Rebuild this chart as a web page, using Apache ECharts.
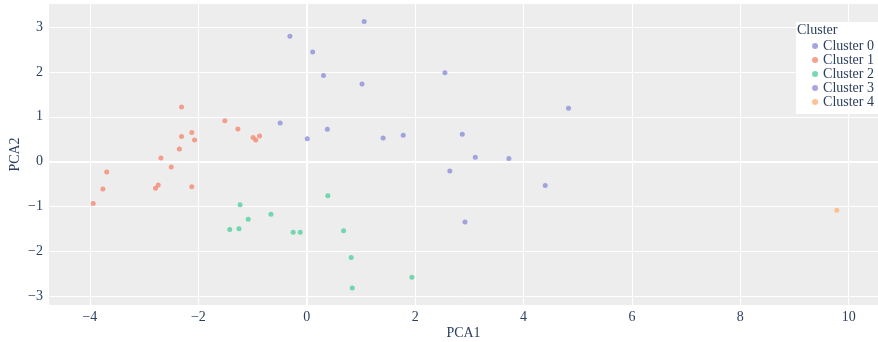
<!DOCTYPE html>
<html>
<head>
<meta charset="utf-8">
<script src="https://cdn.jsdelivr.net/npm/echarts@6/dist/echarts.min.js"></script>
<style>
  html, body { margin: 0; padding: 0; background: #fff; }
  #chart { width: 878px; height: 342px; }
</style>
</head>
<body>
<div id="chart"></div>
<script>
// PCA scatter, values
var xTicks = [-4, -2, 0, 2, 4, 6, 8, 10];
var yTicks = [-3, -2, -1, 0, 1, 2, 3];
var clusterNames = ['Cluster 0', 'Cluster 1', 'Cluster 2', 'Cluster 3', 'Cluster 4'];
var clusterColors = ['#8f90da', '#f28a70', '#52cf9f', '#978fd8', '#ffb27c'];

var cluster0 = [
    [-0.31, 2.79], [1.06, 3.12], [0.11, 2.44], [0.31, 1.92], [1.02, 1.73],
    [2.55, 1.98], [4.83, 1.19], [-0.49, 0.86], [0.01, 0.51], [0.38, 0.72],
    [1.41, 0.53], [1.78, 0.59], [2.87, 0.61], [3.11, 0.10], [3.73, 0.07],
    [2.64, -0.21], [4.40, -0.53], [2.92, -1.34]
];
var cluster1 = [
    [-2.31, 1.22], [-1.51, 0.91], [-1.27, 0.73], [-0.99, 0.54], [-0.94, 0.48],
    [-0.87, 0.57], [-2.12, 0.65], [-2.31, 0.56], [-2.07, 0.48], [-2.35, 0.28],
    [-2.69, 0.08], [-2.50, -0.12], [-3.69, -0.23], [-3.76, -0.61], [-3.94, -0.93],
    [-2.74, -0.52], [-2.79, -0.59], [-2.12, -0.56]
];
var cluster2 = [
    [-1.23, -0.96], [-1.08, -1.28], [-0.66, -1.17], [-1.42, -1.51], [-1.25, -1.49],
    [-0.25, -1.57], [-0.12, -1.57], [0.39, -0.76], [0.68, -1.54], [0.82, -2.13],
    [0.84, -2.81], [1.94, -2.57]
];
var cluster3 = [];
var cluster4 = [[9.78, -1.08]];

var clusterData = [cluster0, cluster1, cluster2, cluster3, cluster4];
var font = 'Liberation Serif';
var textColor = '#2a3f5f';

function minusLabel(v) {
    return String(v).replace('-', '\u2212');
}

var series = clusterNames.map(function (name, i) {
    var s = {
        name: name,
        type: 'scatter',
        symbolSize: 5,
        itemStyle: { color: clusterColors[i] },
        data: clusterData[i]
    };
    if (i === 0) {
        // thicker zero lines like the original
        s.markLine = {
            silent: true,
            symbol: 'none',
            label: { show: false },
            lineStyle: { color: '#ffffff', width: 2, type: 'solid' },
            data: [{ xAxis: 0 }, { yAxis: 0 }],
            z: 1
        };
    }
    return s;
});

var myChart = echarts.init(document.getElementById('chart'));
var option = {
    backgroundColor: '#ffffff',
    animation: false,
    textStyle: { fontFamily: font },
    title: {
        text: 'Cluster',
        left: 797,
        top: 23,
        padding: 0,
        z: 10,
        textStyle: { fontFamily: font, fontSize: 14, fontWeight: 'normal', color: textColor }
    },
    legend: {
        orient: 'vertical',
        right: 0,
        top: 22,
        padding: [17, 4, 5, 16],
        backgroundColor: '#ffffff',
        itemGap: 0,
        itemWidth: 6,
        itemHeight: 6,
        icon: 'circle',
        data: clusterNames,
        textStyle: { fontFamily: font, fontSize: 14, color: textColor, lineHeight: 12.7 }
    },
    grid: {
        left: 49,
        right: 0,
        top: 4,
        bottom: 37,
        outerBoundsMode: 'none',
        containLabel: false,
        show: true,
        backgroundColor: '#ededed',
        borderWidth: 0
    },
    xAxis: {
        type: 'value',
        min: -4.755,
        max: 10.54,
        name: 'PCA1',
        nameLocation: 'middle',
        nameGap: 21,
        nameMoveOverlap: false,
        nameTextStyle: { fontFamily: font, fontSize: 14, color: textColor },
        axisLine: { show: false },
        axisTick: { show: false, customValues: xTicks },
        axisLabel: { customValues: xTicks, formatter: minusLabel, fontFamily: font, fontSize: 14, color: textColor, margin: 5 },
        splitLine: { show: true, lineStyle: { color: '#ffffff', width: 1 } }
    },
    yAxis: {
        type: 'value',
        min: -3.19,
        max: 3.51,
        name: 'PCA2',
        nameLocation: 'middle',
        nameGap: 27,
        nameMoveOverlap: false,
        nameTextStyle: { fontFamily: font, fontSize: 14, color: textColor },
        axisLine: { show: false },
        axisTick: { show: false, customValues: yTicks },
        axisLabel: { customValues: yTicks, formatter: minusLabel, fontFamily: font, fontSize: 14, color: textColor, margin: 6 },
        splitLine: { show: true, lineStyle: { color: '#ffffff', width: 1 } }
    },
    series: series
};
myChart.setOption(option);
</script>
</body>
</html>
